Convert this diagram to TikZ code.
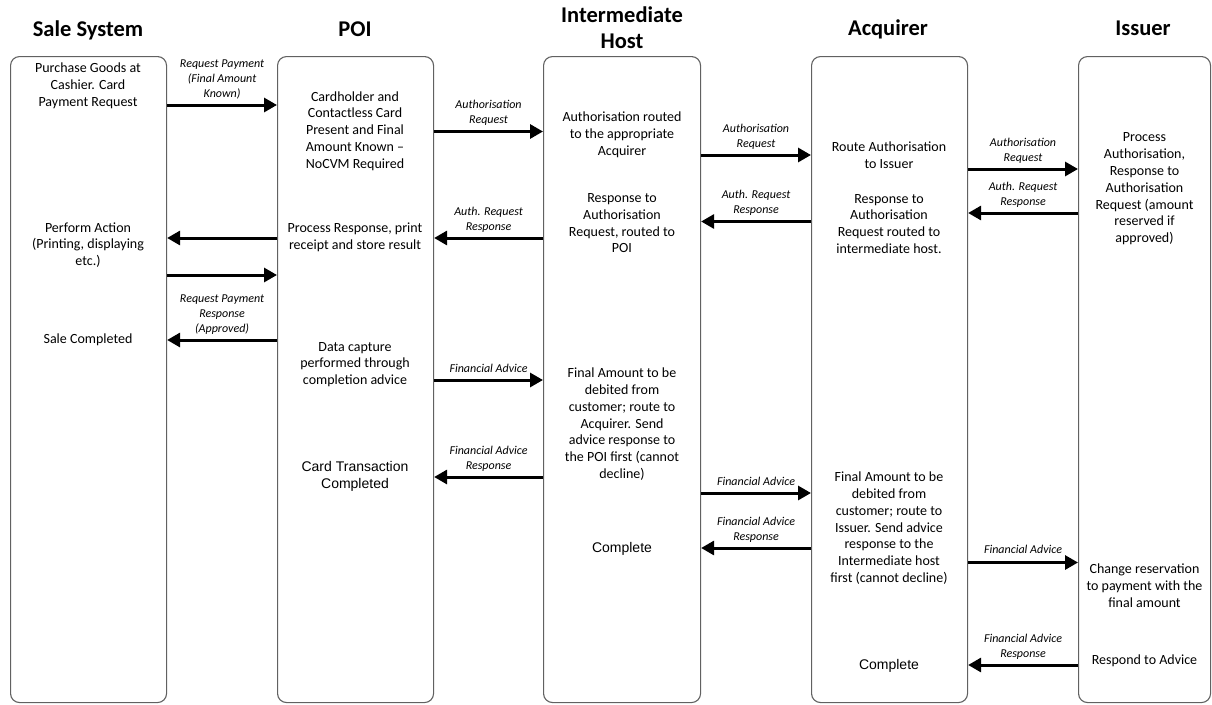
\documentclass[tikz,border=0pt]{standalone}
\usepackage{fontspec}
\setmainfont{Carlito}
\newfontfamily\arialfont{Liberation Sans}
\usetikzlibrary{arrows.meta}
\begin{document}
\begin{tikzpicture}[x=1pt,y=-1pt,
  lane/.style={draw=black!62, line width=1.1pt, rounded corners=9pt,
    anchor=north west, minimum height=646pt, inner sep=0pt},
  head/.style={font=\bfseries\fontsize{22.5}{26.6}\selectfont, align=center, inner sep=0pt},
  body/.style={font=\fontsize{14}{16.8}\selectfont, align=center, inner sep=0pt},
  arialtxt/.style={font=\arialfont\fontsize{14}{17}\selectfont, align=center, inner sep=0pt},
  lbl/.style={font=\fontsize{12}{14.6}\selectfont\itshape, align=center,
    inner sep=1pt, text depth=2.5pt, above=3pt},
  msg/.style={line width=3pt, -{Triangle[length=13pt,width=14pt]}}
]
\useasboundingbox (0,0) rectangle (1212,704);

% swimlanes
\node[lane, minimum width=156pt] (sale) at (10,56) {};
\node[lane, minimum width=156pt] (poi)  at (277,56) {};
\node[lane, minimum width=157pt] (ih)   at (543,56) {};
\node[lane, minimum width=156pt] (acq)  at (811,56) {};
\node[lane, minimum width=132pt] (iss)  at (1078,56) {};

% lane titles
\node[head, anchor=base] (hsale) at (88,36.5) {Sale System};
\node[head, anchor=base] (hpoi)  at (355,36) {POI};
\node[head] (hih) at (622,27.5) {Intermediate\\Host};
\node[head, anchor=base] (hacq)  at (888,35.5) {Acquirer};
\node[head, anchor=base] (hiss)  at (1143,35.5) {Issuer};

% Sale System steps
\node[body] (s1) at (88,85.5) {Purchase Goods at\\Cashier. Card\\Payment Request};
\node[body] (s2) at (88,245) {Perform Action\\(Printing, displaying\\etc.)};
\node[body] (s3) at (88,340) {Sale Completed};

% POI steps
\node[body] (p1) at (355,131) {Cardholder and\\Contactless Card\\Present and Final\\Amount Known --\\NoCVM Required};
\node[body] (p2) at (355,237) {Process Response, print\\receipt and store result};
\node[body] (p3) at (355,364.5) {Data capture\\performed through\\completion advice};
\node[arialtxt] (p4) at (355,476.5) {Card Transaction\\Completed};

% Intermediate host steps
\node[body] (i1) at (622,134.5) {Authorisation routed\\to the appropriate\\Acquirer};
\node[body] (i2) at (622,223.3) {Response to\\Authorisation\\Request, routed to\\POI};
\node[body] (i3) at (622,424.3) {Final Amount to be\\debited from\\customer; route to\\Acquirer. Send\\advice response to\\the POI first (cannot\\decline)};
\node[arialtxt] (i4) at (622,549) {Complete};

% Acquirer steps
\node[body] (a1) at (889,155) {Route Authorisation\\to Issuer};
\node[body] (a2) at (889,223.8) {Response to\\Authorisation\\Request routed to\\intermediate host.};
\node[body] (a3) at (889,528.3) {Final Amount to be\\debited from\\customer; route to\\Issuer. Send advice\\response to the\\Intermediate host\\first (cannot decline)};
\node[arialtxt] (a4) at (889,665.5) {Complete};

% Issuer steps
\node[body] (r1) at (1144.5,189) {Process\\Authorisation,\\Response to\\Authorisation\\Request (amount\\reserved if\\approved)};
\node[body] (r2) at (1144.5,585.8) {Change reservation\\to payment with the\\final amount};
\node[body] (r3) at (1144.5,660.7) {Respond to Advice};

% messages
\draw[msg] (sale.east |- 0,105) -- node[lbl] {Request Payment\\(Final Amount\\Known)} (poi.west |- 0,105);
\draw[msg] (poi.east |- 0,131.5) -- node[lbl] {Authorisation\\Request} (ih.west |- 0,131.5);
\draw[msg] (ih.east |- 0,155) -- node[lbl] {Authorisation\\Request} (acq.west |- 0,155);
\draw[msg] (acq.east |- 0,169) -- node[lbl] {Authorisation\\Request} (iss.west |- 0,169);
\draw[msg] (iss.west |- 0,213) -- node[lbl] {Auth. Request\\Response} (acq.east |- 0,213);
\draw[msg] (acq.west |- 0,221.5) -- node[lbl] {Auth. Request\\Response} (ih.east |- 0,221.5);
\draw[msg] (ih.west |- 0,238) -- node[lbl] {Auth. Request\\Response} (poi.east |- 0,238);
\draw[msg] (poi.west |- 0,238) -- (sale.east |- 0,238);
\draw[msg] (sale.east |- 0,275) -- (poi.west |- 0,275);
\draw[msg] (poi.west |- 0,340) -- node[lbl] {Request Payment\\Response\\(Approved)} (sale.east |- 0,340);
\draw[msg] (poi.east |- 0,380) -- node[lbl] {Financial Advice} (ih.west |- 0,380);
\draw[msg] (ih.west |- 0,477) -- node[lbl] {Financial Advice\\Response} (poi.east |- 0,477);
\draw[msg] (ih.east |- 0,493) -- node[lbl] {Financial Advice} (acq.west |- 0,493);
\draw[msg] (acq.west |- 0,548) -- node[lbl, above=0pt] {Financial Advice\\Response} (ih.east |- 0,548);
\draw[msg] (acq.east |- 0,562.5) -- node[lbl, above=1pt] {Financial Advice} (iss.west |- 0,562.5);
\draw[msg] (iss.west |- 0,665) -- node[lbl, above=0pt] {Financial Advice\\Response} (acq.east |- 0,665);
\end{tikzpicture}
\end{document}
